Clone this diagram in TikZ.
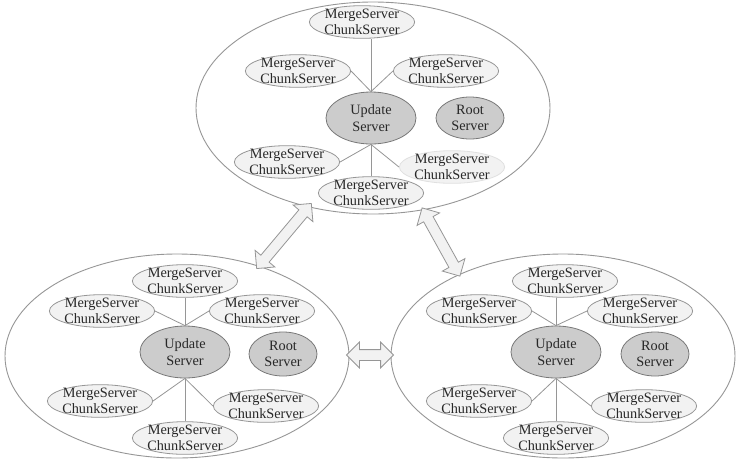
\documentclass[tikz,border=0pt]{standalone}
\usepackage{fontspec}
\setmainfont{Liberation Serif}
\usetikzlibrary{shapes.geometric, shapes.arrows}
\definecolor{edgegray}{RGB}{150,150,150}
\definecolor{lightfill}{RGB}{242,242,242}
\definecolor{darkfill}{RGB}{204,204,204}
\definecolor{textgray}{RGB}{40,40,40}
\tikzstyle{cluster} = [ellipse, draw=edgegray, line width=0.9pt, fill=white]
\tikzstyle{store} = [ellipse, draw=edgegray, fill=lightfill, line width=0.8pt, align=center, inner xsep=-0.5pt, inner ysep=-1.5pt, text=textgray]
\tikzstyle{faint} = [store, draw=lightfill!80!edgegray]
\tikzstyle{master} = [ellipse, draw=edgegray!80!black, fill=darkfill, line width=0.8pt, align=center, inner sep=0pt, text=textgray]
\tikzstyle{link} = [draw=edgegray, line width=0.8pt]
\tikzstyle{fatarrow} = [double arrow, draw=edgegray, fill=lightfill, line width=0.8pt, inner sep=5pt, double arrow head extend=7.5pt]

\begin{document}
\begin{tikzpicture}[x=1pt, y=-1pt, font=\fontsize{14.3}{16.5}\selectfont]
    \useasboundingbox (0,0) rectangle (737,467);

    % three groups
    \node (top) [cluster, minimum width=354, minimum height=212] at (373,108) {};
    \node (left) [cluster, minimum width=344, minimum height=204] at (177,356) {};
    \node (right) [cluster, minimum width=344, minimum height=204] at (563,356) {};

    % top group
    \node (tms1) [store] at (362,22) {MergeServer\\ChunkServer};
    \node (tms2) [store] at (298,71) {MergeServer\\ChunkServer};
    \node (tms3) [store] at (446,71) {MergeServer\\ChunkServer};
    \node (tupd) [master, minimum width=90, minimum height=52] at (371,118) {Update\\Server};
    \node (troot) [master, minimum width=68, minimum height=42] at (470,118) {Root\\Server};
    \node (tms4) [store] at (287,162) {MergeServer\\ChunkServer};
    \node (tms5) [faint] at (452,167) {MergeServer\\ChunkServer};
    \node (tms6) [store] at (371,193) {MergeServer\\ChunkServer};

    % left group
    \node (lms1) [store] at (185,281) {MergeServer\\ChunkServer};
    \node (lms2) [store] at (102,311) {MergeServer\\ChunkServer};
    \node (lms3) [store] at (262,311) {MergeServer\\ChunkServer};
    \node (lupd) [master, minimum width=90, minimum height=52] at (185,352) {Update\\Server};
    \node (lroot) [master, minimum width=68, minimum height=44] at (283,354) {Root\\Server};
    \node (lms4) [store] at (100,401) {MergeServer\\ChunkServer};
    \node (lms5) [store] at (266,406) {MergeServer\\ChunkServer};
    \node (lms6) [store] at (185,438) {MergeServer\\ChunkServer};

    % right group
    \node (rms1) [store] at (565,281) {MergeServer\\ChunkServer};
    \node (rms2) [store] at (479,311) {MergeServer\\ChunkServer};
    \node (rms3) [store] at (640,311) {MergeServer\\ChunkServer};
    \node (rupd) [master, minimum width=90, minimum height=52] at (556,352) {Update\\Server};
    \node (rroot) [master, minimum width=68, minimum height=44] at (655,354) {Root\\Server};
    \node (rms4) [store] at (479,401) {MergeServer\\ChunkServer};
    \node (rms5) [store] at (644,406) {MergeServer\\ChunkServer};
    \node (rms6) [store] at (556,438) {MergeServer\\ChunkServer};

    \foreach \c in {t,l,r} {
        \draw [link] (\c upd.north) -- (\c upd.north |- \c ms1.south);
        \draw [link] (\c upd.north) -- (\c ms2.east);
        \draw [link] (\c upd.north) -- (\c ms3.west);
        \draw [link] (\c upd.south) -- (\c ms4.east);
        \draw [link] (\c upd.south) -- (\c ms5.west);
        \draw [link] (\c upd.south) -- (\c upd.south |- \c ms6.north);
    }

    % links between groups
    \node (tl) [fatarrow, minimum height=85, rotate=50] at (284,236) {};
    \node (tr) [fatarrow, minimum height=78, rotate=-61] at (441,242) {};
    \node (lr) [fatarrow, minimum height=47] at (370,355) {};

\end{tikzpicture}
\end{document}
